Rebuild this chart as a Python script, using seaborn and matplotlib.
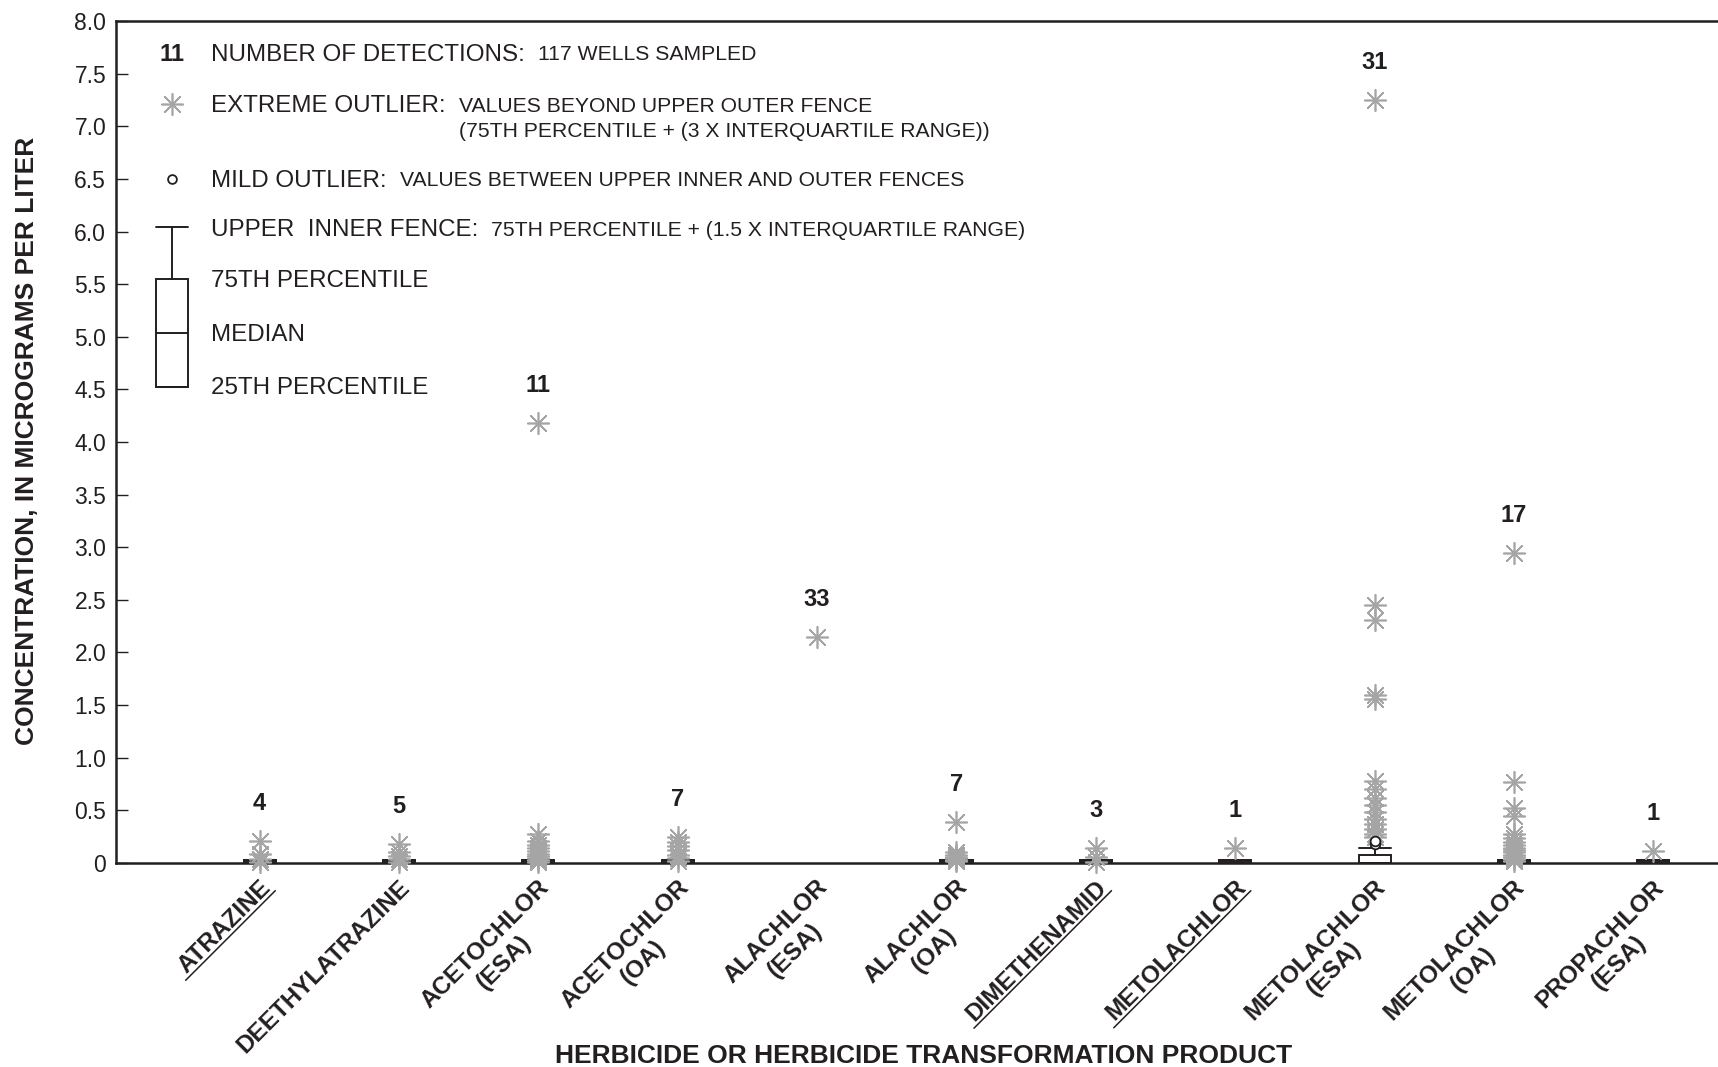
import numpy as np
import pandas as pd
import matplotlib
matplotlib.use("Agg")
import matplotlib.pyplot as plt
import matplotlib.transforms as mtransforms
from matplotlib.lines import Line2D
import seaborn as sns

# ---------------------------------------------------------------- data
HERBICIDES = [
    "ATRAZINE", "DEETHYLATRAZINE", "ACETOCHLOR\n(ESA)", "ACETOCHLOR\n(OA)",
    "ALACHLOR\n(ESA)", "ALACHLOR\n(OA)", "DIMETHENAMID", "METOLACHLOR",
    "METOLACHLOR\n(ESA)", "METOLACHLOR\n(OA)", "PROPACHLOR\n(ESA)",
]
UNDERLINED = [True, False, False, False, False, False, True, True, False, False, False]
DETECTIONS = [4, 5, 11, 7, 33, 7, 3, 1, 31, 17, 1]

# box statistics, micrograms per liter (nan = no box drawn)
BOX_Q1 = [0.0, 0.0, 0.0, 0.0, np.nan, 0.0, 0.0, 0.0, 0.0, 0.0, 0.0]
BOX_MEDIAN = [0.01, 0.01, 0.01, 0.01, np.nan, 0.01, 0.01, 0.01, 0.0, 0.01, 0.01]
BOX_Q3 = [0.025, 0.025, 0.025, 0.025, np.nan, 0.025, 0.025, 0.025, 0.075, 0.025, 0.025]
INNER_FENCE = [0.025, 0.025, 0.025, 0.025, np.nan, 0.025, 0.025, 0.025, 0.14, 0.025, 0.025]

# extreme outliers (beyond upper outer fence)
atrazine_ext = [0.21, 0.09, 0.04, 0.01]
deethylatrazine_ext = [0.18, 0.10, 0.07, 0.04, 0.01]
acetochlor_esa_ext = [4.18, 0.28, 0.21, 0.17, 0.14, 0.11, 0.09, 0.07, 0.05, 0.03, 0.01]
acetochlor_oa_ext = [0.25, 0.20, 0.16, 0.12, 0.08, 0.05, 0.02]
alachlor_esa_ext = [2.15]
alachlor_oa_ext = [0.39, 0.10, 0.08, 0.06, 0.05, 0.03, 0.02]
dimethenamid_ext = [0.14, 0.06, 0.01]
metolachlor_ext = [0.14]
metolachlor_esa_ext = [7.25, 2.45, 2.31, 1.60, 1.56, 0.78, 0.70, 0.62, 0.55,
                       0.48, 0.42, 0.37, 0.32, 0.28, 0.25]
metolachlor_oa_ext = [2.95, 0.77, 0.52, 0.45, 0.28, 0.24, 0.20, 0.17, 0.14,
                      0.12, 0.10, 0.08, 0.06, 0.04, 0.02]
propachlor_esa_ext = [0.11]
EXTREME = [atrazine_ext, deethylatrazine_ext, acetochlor_esa_ext, acetochlor_oa_ext,
           alachlor_esa_ext, alachlor_oa_ext, dimethenamid_ext, metolachlor_ext,
           metolachlor_esa_ext, metolachlor_oa_ext, propachlor_esa_ext]

# mild outliers (between upper inner and outer fences)
metolachlor_esa_mild = [0.18, 0.21]
MILD = [[], [], [], [], [], [], [], [], metolachlor_esa_mild, [], []]

# explanation key
KEY_Q1, KEY_MEDIAN, KEY_Q3, KEY_FENCE = 4.52, 5.04, 5.55, 6.04

Y_TICKS = [0, 0.5, 1.0, 1.5, 2.0, 2.5, 3.0, 3.5, 4.0, 4.5, 5.0, 5.5, 6.0, 6.5, 7.0, 7.5, 8.0]
Y_TICK_LABELS = ["0", "0.5", "1.0", "1.5", "2.0", "2.5", "3.0", "3.5", "4.0",
                 "4.5", "5.0", "5.5", "6.0", "6.5", "7.0", "7.5", "8.0"]

# ---------------------------------------------------------------- style
sns.set_theme(style="ticks")
plt.rcParams["font.family"] = ["Liberation Sans", "DejaVu Sans"]

INK = "#231f20"
STAR_GRAY = "#a5a5a5"
ASTERISK = (8, 2, 0)
BOX_W = 0.23
XLIM = (-1.031, 10.464)

fig = plt.figure(figsize=(17.18, 10.67), dpi=100)
ax = fig.add_axes([0.0675, 0.1912, 0.9325, 0.7891])

# ---------------------------------------------------------------- boxes
stats, positions = [], []
for i, (q1, med, q3, wh) in enumerate(zip(BOX_Q1, BOX_MEDIAN, BOX_Q3, INNER_FENCE)):
    if np.isnan(q1):
        continue
    stats.append(dict(q1=q1, med=med, q3=q3, whislo=q1, whishi=wh, fliers=[]))
    positions.append(i)

line_kw = dict(color=INK, linewidth=1.4)
ax.bxp(stats, positions=positions, widths=BOX_W, capwidths=BOX_W, showfliers=False,
       patch_artist=True, manage_ticks=False,
       boxprops=dict(facecolor="white", edgecolor=INK, linewidth=1.4),
       medianprops=line_kw, whiskerprops=line_kw, capprops=line_kw, zorder=2)

# ---------------------------------------------------------------- outliers
ext_df = pd.DataFrame([(h, v) for h, vals in zip(HERBICIDES, EXTREME) for v in vals],
                      columns=["herbicide", "value"])
mild_df = pd.DataFrame([(h, v) for h, vals in zip(HERBICIDES, MILD) for v in vals],
                       columns=["herbicide", "value"])

n_before = len(ax.collections)
sns.stripplot(data=ext_df, x="herbicide", y="value", order=HERBICIDES, jitter=False,
              marker=ASTERISK, size=15.5, linewidth=1.2, color=STAR_GRAY,
              edgecolor=STAR_GRAY, ax=ax, zorder=3)
sns.stripplot(data=mild_df, x="herbicide", y="value", order=HERBICIDES, jitter=False,
              marker="o", size=7, linewidth=1.3, color="white", edgecolor=INK,
              ax=ax, zorder=4)
for coll in ax.collections[n_before:]:
    coll.set_clip_on(False)

# number of detections above each column
for i, n in enumerate(DETECTIONS):
    vals = EXTREME[i] + MILD[i]
    if not np.isnan(INNER_FENCE[i]):
        vals = vals + [INNER_FENCE[i]]
    ax.annotate(str(n), xy=(i, max(vals)), xytext=(0, 27), textcoords="offset points",
                ha="center", va="center", fontsize=17, fontweight="bold", color=INK)

# ---------------------------------------------------------------- axes
ax.set_xlim(*XLIM)
ax.set_ylim(0, 8)
ax.set_yticks(Y_TICKS)
ax.set_yticklabels(Y_TICK_LABELS)
ax.tick_params(axis="y", direction="in", length=8.5, width=1.0, pad=7,
               labelsize=16.5, colors=INK)

ax.set_xticks(range(len(HERBICIDES)))
ax.set_xticklabels(HERBICIDES, fontweight="bold")
ax.tick_params(axis="x", length=0, pad=9, labelsize=17.5, colors=INK)
shift = mtransforms.ScaledTranslation(-0.01, 0, fig.dpi_scale_trans)
for lbl in ax.get_xticklabels():
    lbl.set_rotation(45)
    lbl.set_rotation_mode("anchor")
    lbl.set_ha("right")
    lbl.set_va("top")
    lbl.set_multialignment("center")
    lbl.set_transform(lbl.get_transform() + shift)

ax.set_xlabel("HERBICIDE OR HERBICIDE TRANSFORMATION PRODUCT",
              fontsize=19, fontweight="bold", color=INK)
ax.xaxis.label.set_va("center")
ax.xaxis.set_label_coords(0.504, -0.229)
ax.set_ylabel("CONCENTRATION, IN MICROGRAMS PER LITER",
              fontsize=19, fontweight="bold", color=INK)
ax.yaxis.label.set_va("center")
ax.yaxis.set_label_coords(-0.0556, 0.501)

for side in ("left", "top", "bottom"):
    ax.spines[side].set_color(INK)
    ax.spines[side].set_linewidth(1.8)
ax.spines["right"].set_visible(False)

# ---------------------------------------------------------------- explanation
span = XLIM[1] - XLIM[0]
key_x = XLIM[0] + 0.035 * span
text_x = XLIM[0] + 0.0593 * span
GAP = 9.5
DY = -0.02


def key_row(y, main, detail, size_main=17.4, size_detail=15.2):
    t = ax.text(text_x, y + DY, main, fontsize=size_main, ha="left", va="center", color=INK)
    d = None
    if detail:
        d = ax.annotate(detail, xy=(1, y + DY), xycoords=(t, "data"), xytext=(GAP, 0),
                        textcoords="offset points", ha="left", va="center",
                        fontsize=size_detail, color=INK)
    return t, d


ax.text(key_x, 7.70 + DY, "11", fontsize=17, fontweight="bold", ha="center", va="center",
        color=INK)
key_row(7.70, "NUMBER OF DETECTIONS:", "117 WELLS SAMPLED")

ax.scatter([key_x], [7.21], marker=ASTERISK, s=240, linewidths=1.2, color=STAR_GRAY, zorder=3)
_, beyond = key_row(7.21, "EXTREME OUTLIER:", "VALUES BEYOND UPPER OUTER FENCE")
ax.annotate("(75TH PERCENTILE + (3 X INTERQUARTILE RANGE))", xy=(0, 6.97 + DY),
            xycoords=(beyond, "data"), ha="left", va="center", fontsize=15.2, color=INK)

ax.scatter([key_x], [6.50], marker="o", s=40, linewidths=1.3, facecolor="white",
           edgecolor=INK, zorder=4)
key_row(6.50, "MILD OUTLIER:", "VALUES BETWEEN UPPER INNER AND OUTER FENCES")

key_row(6.03, "UPPER  INNER FENCE:", "75TH PERCENTILE + (1.5 X INTERQUARTILE RANGE)")
ax.bxp([dict(q1=KEY_Q1, med=KEY_MEDIAN, q3=KEY_Q3, whislo=KEY_Q1, whishi=KEY_FENCE,
             fliers=[])], positions=[key_x], widths=BOX_W, capwidths=BOX_W,
       showfliers=False, patch_artist=True, manage_ticks=False,
       boxprops=dict(facecolor="white", edgecolor=INK, linewidth=1.4),
       medianprops=line_kw, whiskerprops=line_kw, capprops=line_kw)
key_row(KEY_Q3, "75TH PERCENTILE", None)
key_row(KEY_MEDIAN, "MEDIAN", None)
key_row(4.53, "25TH PERCENTILE", None)

ax.set_xlim(*XLIM)
ax.set_ylim(0, 8)

# ---------------------------------------------------------------- underlined names
fig.canvas.draw()
renderer = fig.canvas.get_renderer()
theta = np.deg2rad(45)
rot = np.array([[np.cos(theta), -np.sin(theta)], [np.sin(theta), np.cos(theta)]])
for lbl, underline in zip(ax.get_xticklabels(), UNDERLINED):
    if not underline:
        continue
    lbl.set_rotation(0)
    bb = lbl.get_window_extent(renderer)
    lbl.set_rotation(45)
    w, h = bb.width, bb.height
    anchor = lbl.get_transform().transform(lbl.get_position())
    local = np.array([[-w - 5.0, -h + 0.5], [1.0, -h + 0.5]])
    disp = anchor + local @ rot.T
    figpts = fig.transFigure.inverted().transform(disp)
    fig.add_artist(Line2D(figpts[:, 0], figpts[:, 1], transform=fig.transFigure,
                          color=INK, linewidth=1.1))

fig.savefig("out.png", dpi=100, facecolor="white")
